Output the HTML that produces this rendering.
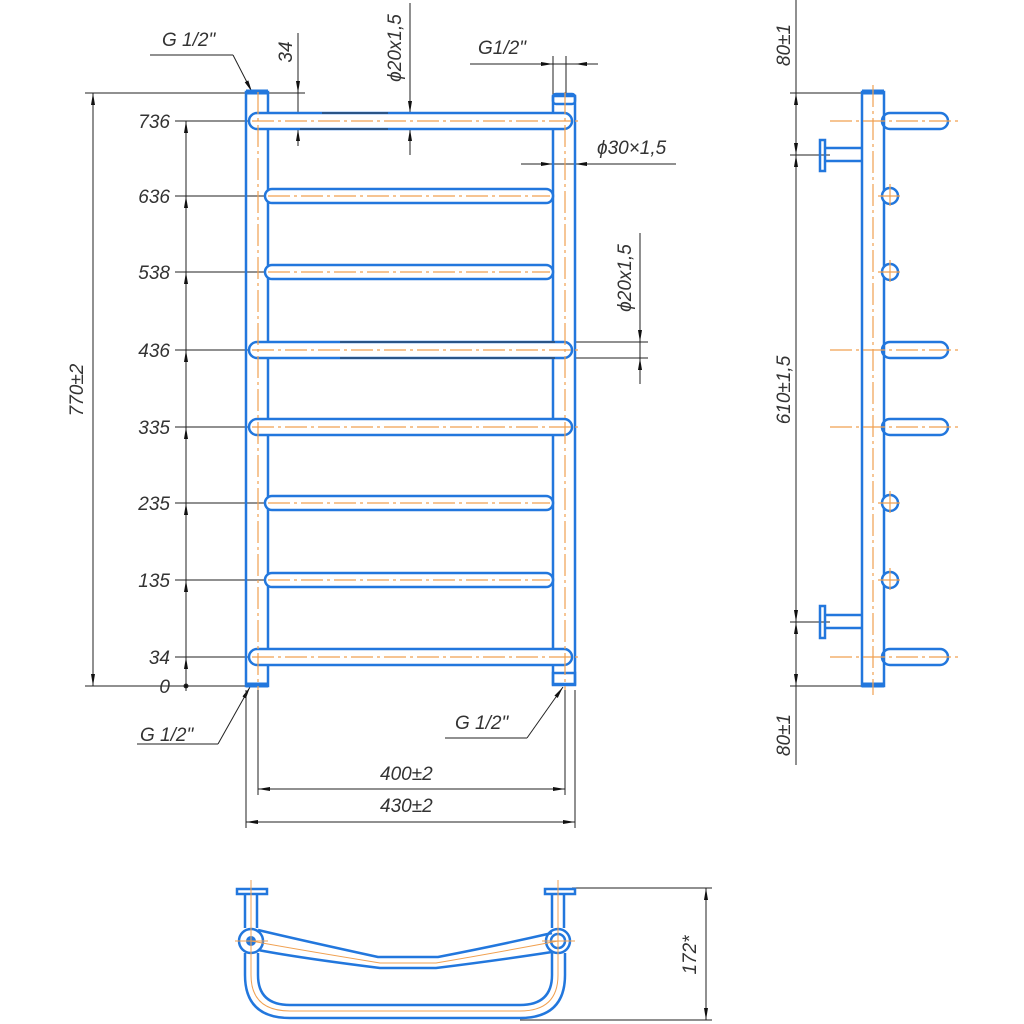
<!DOCTYPE html>
<html><head><meta charset="utf-8"><style>
html,body{margin:0;padding:0;background:#fff;}
svg{display:block;}
text{font-family:"Liberation Sans",sans-serif;font-style:italic;font-size:19px;fill:#333;}
</style></head><body>
<svg width="1024" height="1024" viewBox="0 0 1024 1024" xmlns="http://www.w3.org/2000/svg">
<defs>
<marker id="a" viewBox="0 0 12 6" refX="12" refY="3" markerWidth="12" markerHeight="6" orient="auto-start-reverse" markerUnits="userSpaceOnUse"><path d="M0,1 L12,3 L0,5z" fill="#111"/></marker>
</defs>
<g stroke="#222" stroke-width="1" fill="none">
<line x1="85" y1="93" x2="246" y2="93"/>
<line x1="85" y1="686" x2="246" y2="686"/>
<line x1="93" y1="93" x2="93" y2="686" marker-start="url(#a)" marker-end="url(#a)"/>
<line x1="175" y1="121" x2="250" y2="121"/>
<line x1="175" y1="196" x2="266" y2="196"/>
<line x1="175" y1="272" x2="266" y2="272"/>
<line x1="175" y1="350" x2="250" y2="350"/>
<line x1="175" y1="427" x2="250" y2="427"/>
<line x1="175" y1="503" x2="266" y2="503"/>
<line x1="175" y1="580" x2="266" y2="580"/>
<line x1="175" y1="657" x2="250" y2="657"/>
<line x1="175" y1="686" x2="246" y2="686"/>
<line x1="186" y1="686" x2="186" y2="121"/>
<line x1="186" y1="160" x2="186" y2="121" marker-end="url(#a)"/>
<line x1="186" y1="230" x2="186" y2="196" marker-end="url(#a)"/>
<line x1="186" y1="306" x2="186" y2="272" marker-end="url(#a)"/>
<line x1="186" y1="384" x2="186" y2="350" marker-end="url(#a)"/>
<line x1="186" y1="461" x2="186" y2="427" marker-end="url(#a)"/>
<line x1="186" y1="537" x2="186" y2="503" marker-end="url(#a)"/>
<line x1="186" y1="614" x2="186" y2="580" marker-end="url(#a)"/>
<line x1="186" y1="691" x2="186" y2="657" marker-end="url(#a)"/>
<circle cx="186" cy="686" r="2" fill="#111"/>
<line x1="150" y1="55" x2="233" y2="55"/>
<line x1="233" y1="55" x2="252" y2="92" marker-end="url(#a)"/>
<line x1="298" y1="33" x2="298" y2="145"/>
<line x1="298" y1="70" x2="298" y2="93" marker-end="url(#a)"/>
<line x1="298" y1="146" x2="298" y2="129" marker-end="url(#a)"/>
<line x1="268" y1="93" x2="305" y2="93"/>
<line x1="410" y1="3" x2="410" y2="155"/>
<line x1="410" y1="90" x2="410" y2="113" marker-end="url(#a)"/>
<line x1="410" y1="152" x2="410" y2="129" marker-end="url(#a)"/>
<line x1="470" y1="64" x2="598" y2="64"/>
<line x1="535" y1="64" x2="553" y2="64" marker-end="url(#a)"/>
<line x1="595" y1="64" x2="575" y2="64" marker-end="url(#a)"/>
<line x1="553" y1="56" x2="553" y2="96"/>
<line x1="566" y1="56" x2="566" y2="96"/>
<line x1="521" y1="164" x2="676" y2="164"/>
<line x1="530" y1="164" x2="553" y2="164" marker-end="url(#a)"/>
<line x1="598" y1="164" x2="575" y2="164" marker-end="url(#a)"/>
<line x1="553" y1="130" x2="553" y2="170"/>
<line x1="640" y1="233" x2="640" y2="384"/>
<line x1="640" y1="320" x2="640" y2="342" marker-end="url(#a)"/>
<line x1="640" y1="382" x2="640" y2="358" marker-end="url(#a)"/>
<line x1="575" y1="342" x2="648" y2="342"/>
<line x1="575" y1="358" x2="648" y2="358"/>
<line x1="137" y1="744" x2="218" y2="744"/>
<line x1="218" y1="744" x2="250" y2="687" marker-end="url(#a)"/>
<line x1="445" y1="738" x2="527" y2="738"/>
<line x1="527" y1="738" x2="563" y2="687" marker-end="url(#a)"/>
<line x1="258" y1="690" x2="258" y2="795"/>
<line x1="565" y1="690" x2="565" y2="795"/>
<line x1="246" y1="690" x2="246" y2="828"/>
<line x1="575" y1="690" x2="575" y2="828"/>
<line x1="258" y1="789" x2="565" y2="789" marker-start="url(#a)" marker-end="url(#a)"/>
<line x1="246" y1="822" x2="575" y2="822" marker-start="url(#a)" marker-end="url(#a)"/>
<line x1="796" y1="0" x2="796" y2="765"/>
<line x1="790" y1="93" x2="862" y2="93"/>
<line x1="790" y1="155" x2="830" y2="155"/>
<line x1="790" y1="622" x2="830" y2="622"/>
<line x1="790" y1="686" x2="862" y2="686"/>
<line x1="796" y1="120" x2="796" y2="93" marker-end="url(#a)"/>
<line x1="796" y1="128" x2="796" y2="155" marker-end="url(#a)"/>
<line x1="796" y1="180" x2="796" y2="155" marker-end="url(#a)"/>
<line x1="796" y1="597" x2="796" y2="622" marker-end="url(#a)"/>
<line x1="796" y1="648" x2="796" y2="622" marker-end="url(#a)"/>
<line x1="796" y1="660" x2="796" y2="686" marker-end="url(#a)"/>
<line x1="572" y1="888" x2="712" y2="888"/>
<line x1="520" y1="1020" x2="712" y2="1020"/>
<line x1="706" y1="888" x2="706" y2="1020" marker-start="url(#a)" marker-end="url(#a)"/>
</g>
<g stroke="#2277dd" stroke-width="2.5" fill="none">
<rect x="246" y="92" width="22" height="594"/>
<rect x="553" y="96" width="22" height="589"/>
<rect x="553" y="94" width="22" height="10" rx="3"/>
<rect x="553" y="673" width="22" height="11"/>
<rect x="249" y="113" width="323" height="16" rx="8" fill="#fff"/>
<rect x="249" y="342" width="323" height="16" rx="8" fill="#fff"/>
<rect x="249" y="419" width="323" height="16" rx="8" fill="#fff"/>
<rect x="249" y="649" width="323" height="16" rx="8" fill="#fff"/>
<rect x="265" y="189" width="288" height="14" rx="7" fill="#fff"/>
<rect x="265" y="265" width="288" height="14" rx="7" fill="#fff"/>
<rect x="265" y="496" width="288" height="14" rx="7" fill="#fff"/>
<rect x="265" y="573" width="288" height="14" rx="7" fill="#fff"/>
<rect x="862" y="92" width="22" height="594"/>
<rect x="882" y="113" width="66" height="16" rx="8"/>
<rect x="882" y="342" width="66" height="16" rx="8"/>
<rect x="882" y="419" width="66" height="16" rx="8"/>
<rect x="882" y="649" width="66" height="16" rx="8"/>
<circle cx="890" cy="196" r="8" fill="#fff"/>
<circle cx="890" cy="272" r="8" fill="#fff"/>
<circle cx="890" cy="503" r="8" fill="#fff"/>
<circle cx="890" cy="580" r="8" fill="#fff"/>
<rect x="820" y="140" width="5" height="31"/>
<line x1="825" y1="148" x2="862" y2="148"/><line x1="825" y1="161" x2="862" y2="161"/>
<rect x="820" y="606" width="5" height="32"/>
<line x1="825" y1="615" x2="862" y2="615"/><line x1="825" y1="628" x2="862" y2="628"/>
<rect x="237" y="889" width="30" height="5"/>
<rect x="545" y="889" width="30" height="5"/>
<line x1="245" y1="894" x2="245" y2="928"/><line x1="257" y1="894" x2="257" y2="928"/>
<line x1="552" y1="894" x2="552" y2="928"/><line x1="564" y1="894" x2="564" y2="928"/>
<circle cx="251" cy="941" r="12"/>
<circle cx="558" cy="941" r="12"/><circle cx="558" cy="941" r="7"/>
<path d="M258 930 Q300 940 378 957 L438 957 Q500 945 552 933"/>
<path d="M258 950 Q300 958 380 968 L436 968 Q500 960 552 952"/>
<path d="M245 953 L245 975 Q245 1018 290 1018 L520 1018 Q565 1018 565 975 L565 953"/>
<path d="M258 953 L258 975 Q258 1005 290 1005 L520 1005 Q552 1005 552 975 L552 953"/>
</g>
<g stroke="#2277dd" stroke-width="5">
<line x1="246" y1="92" x2="268" y2="92"/>
<line x1="246" y1="685" x2="268" y2="685"/>
<line x1="862" y1="92" x2="884" y2="92"/>
<line x1="862" y1="685" x2="884" y2="685"/>
</g>
<circle cx="251" cy="941" r="5" fill="#2277dd"/>
<g stroke="#f0a050" stroke-width="1.2" fill="none" stroke-dasharray="22,4,3,4">
<line x1="258" y1="92" x2="258" y2="690"/>
<line x1="565" y1="92" x2="565" y2="690"/>
<line x1="252" y1="121" x2="580" y2="121"/>
<line x1="268" y1="196" x2="550" y2="196"/>
<line x1="268" y1="272" x2="550" y2="272"/>
<line x1="252" y1="350" x2="580" y2="350"/>
<line x1="252" y1="427" x2="580" y2="427"/>
<line x1="268" y1="503" x2="550" y2="503"/>
<line x1="268" y1="580" x2="550" y2="580"/>
<line x1="252" y1="657" x2="580" y2="657"/>
<line x1="873" y1="85" x2="873" y2="695"/>
<line x1="830" y1="121" x2="958" y2="121"/>
<line x1="830" y1="350" x2="958" y2="350"/>
<line x1="830" y1="427" x2="958" y2="427"/>
<line x1="830" y1="657" x2="958" y2="657"/>
<line x1="878" y1="196" x2="902" y2="196"/><line x1="890" y1="184" x2="890" y2="208"/>
<line x1="878" y1="272" x2="902" y2="272"/><line x1="890" y1="260" x2="890" y2="284"/>
<line x1="878" y1="503" x2="902" y2="503"/><line x1="890" y1="491" x2="890" y2="515"/>
<line x1="878" y1="580" x2="902" y2="580"/><line x1="890" y1="568" x2="890" y2="592"/>
</g>
<g stroke="#f0a050" stroke-width="1" fill="none">
<path d="M251 941 Q300 950 380 963 L436 963 Q500 952 558 941"/>
<path d="M251 941 L251 975 Q251 1011 290 1011 L520 1011 Q558 1011 558 975 L558 941"/>
<line x1="251" y1="880" x2="251" y2="960"/><line x1="558" y1="880" x2="558" y2="960"/>
<line x1="235" y1="941" x2="268" y2="941"/><line x1="542" y1="941" x2="575" y2="941"/>
</g>
<g stroke="#333" stroke-width="1">
<line x1="322" y1="113" x2="388" y2="113"/>
<line x1="300" y1="129" x2="388" y2="129"/>
<line x1="340" y1="342" x2="555" y2="342"/>
<line x1="340" y1="358" x2="555" y2="358"/>
</g>
<text x="162" y="46">G 1/2"</text>
<text x="478" y="54">G1/2"</text>
<text x="597" y="154">ϕ30×1,5</text>
<text x="140" y="741">G 1/2"</text>
<text x="455" y="729">G 1/2"</text>
<text x="380" y="780">400±2</text>
<text x="380" y="812">430±2</text>
<g text-anchor="end">
<text x="170" y="128">736</text>
<text x="170" y="203">636</text>
<text x="170" y="279">538</text>
<text x="170" y="357">436</text>
<text x="170" y="434">335</text>
<text x="170" y="510">235</text>
<text x="170" y="587">135</text>
<text x="170" y="664">34</text>
<text x="170" y="693">0</text>
</g>
<text transform="translate(83,390) rotate(-90)" text-anchor="middle">770±2</text>
<text transform="translate(292,52) rotate(-90)" text-anchor="middle">34</text>
<text transform="translate(401,48) rotate(-90)" text-anchor="middle">ϕ20x1,5</text>
<text transform="translate(631,278) rotate(-90)" text-anchor="middle">ϕ20x1,5</text>
<text transform="translate(790,45) rotate(-90)" text-anchor="middle">80±1</text>
<text transform="translate(790,390) rotate(-90)" text-anchor="middle">610±1,5</text>
<text transform="translate(790,735) rotate(-90)" text-anchor="middle">80±1</text>
<text transform="translate(696,955) rotate(-90)" text-anchor="middle">172*</text>
</svg>
</body></html>
